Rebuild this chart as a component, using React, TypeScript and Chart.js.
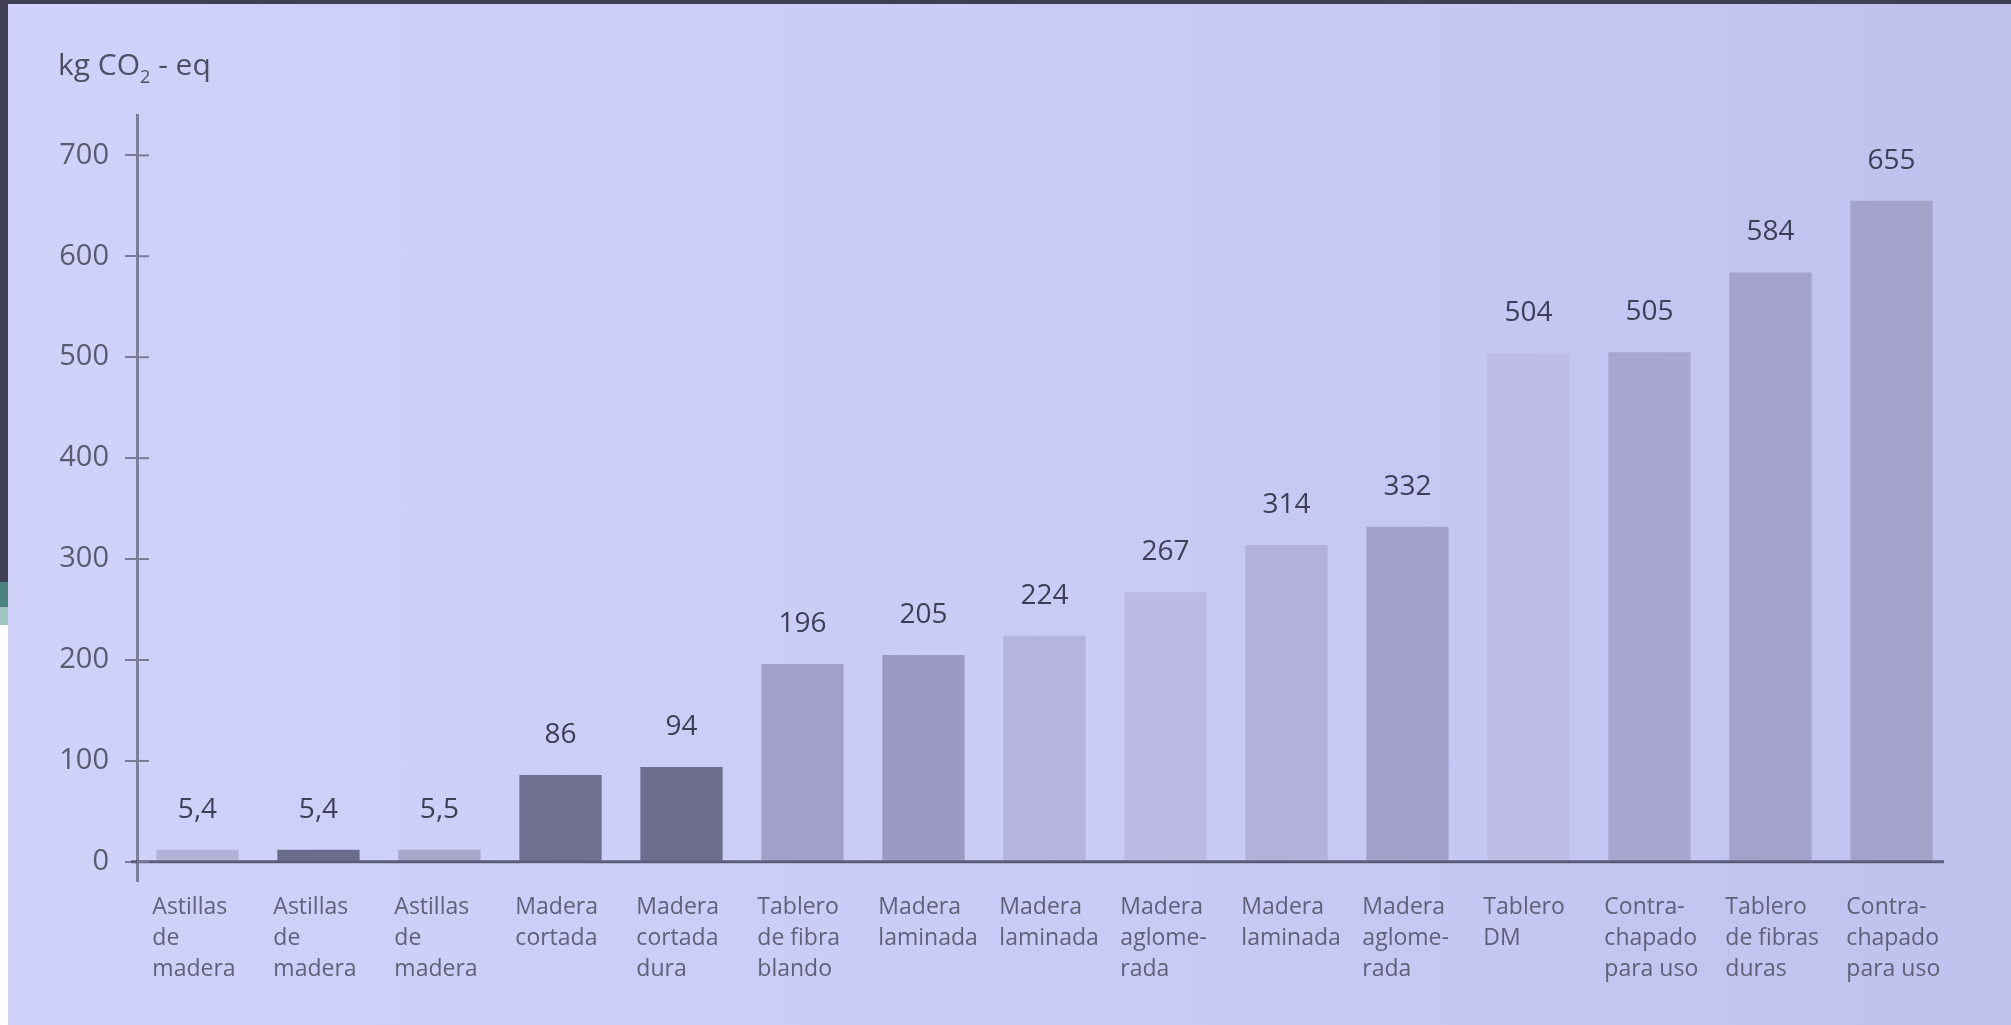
import { useEffect, useRef } from 'react';
import { Chart, registerables } from 'chart.js';

Chart.register(...registerables);

const categories: string[][] = [
  ['Astillas', 'de', 'madera'],
  ['Astillas', 'de', 'madera'],
  ['Astillas', 'de', 'madera'],
  ['Madera', 'cortada'],
  ['Madera', 'cortada', 'dura'],
  ['Tablero', 'de fibra', 'blando'],
  ['Madera', 'laminada'],
  ['Madera', 'laminada'],
  ['Madera', 'aglome-', 'rada'],
  ['Madera', 'laminada'],
  ['Madera', 'aglome-', 'rada'],
  ['Tablero', 'DM'],
  ['Contra-', 'chapado', 'para uso'],
  ['Tablero', 'de fibras', 'duras'],
  ['Contra-', 'chapado', 'para uso'],
];

const values: number[] = [5.4, 5.4, 5.5, 86, 94, 196, 205, 224, 267, 314, 332, 504, 505, 584, 655];

const barColors: string[] = [
  '#b3b3d9', '#6b6b8b', '#a7a7cc', '#6f6f8f', '#6d6d8d',
  '#a0a0c8', '#9a9ac2', '#b4b4de', '#babae4', '#b2b2dc',
  '#a0a0ca', '#bcbce6', '#a6a6d0', '#a2a2cc', '#a3a3cb',
];

const yTicks: number[] = [0, 100, 200, 300, 400, 500, 600, 700];

const fmt = (v: number) => String(v).replace('.', ',');

export default function App() {
  const ref = useRef<HTMLCanvasElement | null>(null);

  useEffect(() => {
    if (!ref.current) return;
    const overlay = {
      id: 'overlay',
      afterDatasetsDraw(chart: any) {
        const { ctx, chartArea, scales } = chart;
        const y = scales.y;
        ctx.save();
        // baseline at zero
        const y0 = y.getPixelForValue(0);
        ctx.strokeStyle = '#5c5c7a';
        ctx.lineWidth = 3;
        ctx.beginPath();
        ctx.moveTo(chartArea.left - 6, y0);
        ctx.lineTo(chartArea.right - 8, y0);
        ctx.stroke();
        // inner half of tick crosses
        ctx.strokeStyle = '#7a7a98';
        ctx.lineWidth = 2;
        yTicks.forEach((v) => {
          const py = y.getPixelForValue(v);
          ctx.beginPath();
          ctx.moveTo(chartArea.left, py);
          ctx.lineTo(chartArea.left + 12, py);
          ctx.stroke();
        });
        const meta = chart.getDatasetMeta(0);
        // value labels
        ctx.font = '28px "Open Sans"';
        ctx.fillStyle = '#3e3e58';
        ctx.textAlign = 'center';
        ctx.textBaseline = 'middle';
        meta.data.forEach((bar: any, i: number) => {
          ctx.fillText(fmt(values[i]), bar.x, bar.y - 40);
        });
        // category labels
        ctx.font = '23px "Open Sans"';
        ctx.fillStyle = '#60607a';
        ctx.textAlign = 'left';
        meta.data.forEach((bar: any, i: number) => {
          const left = bar.x - bar.width / 2 - 4;
          categories[i].forEach((line, j) => {
            ctx.fillText(line, left, chartArea.bottom + 26 + j * 31);
          });
        });
        // y axis unit label
        ctx.textBaseline = 'alphabetic';
        ctx.fillStyle = '#4e4e66';
        let tx = 58;
        const ty = 75;
        ctx.font = '30px "Open Sans"';
        ctx.fillText('kg CO', tx, ty);
        tx += ctx.measureText('kg CO').width;
        ctx.font = '18px "Open Sans"';
        ctx.fillText('2', tx, ty + 8);
        tx += ctx.measureText('2').width;
        ctx.font = '30px "Open Sans"';
        ctx.fillText(' - eq', tx, ty);
        ctx.restore();
      },
    };

    const chart = new Chart(ref.current, {
      type: 'bar',
      data: {
        labels: categories.map((c) => c.join(' ')),
        datasets: [
          {
            data: values,
            backgroundColor: barColors,
            borderWidth: 0,
            barPercentage: 0.68,
            categoryPercentage: 1,
            minBarLength: 12,
          },
        ],
      },
      options: {
        animation: false,
        responsive: true,
        maintainAspectRatio: false,
        layout: { padding: { left: 50, right: 59, top: 115, bottom: 144 } },
        plugins: {
          legend: { display: false },
          title: { display: false },
          tooltip: { enabled: false },
        },
        scales: {
          x: { display: false },
          y: {
            min: -19,
            max: 740,
            afterBuildTicks: (axis: any) => {
              axis.ticks = yTicks.map((v) => ({ value: v }));
            },
            afterFit: (axis: any) => {
              axis.width = 87;
            },
            border: { display: true, color: '#7c7c9c', width: 3 },
            grid: {
              display: true,
              drawOnChartArea: false,
              drawTicks: true,
              tickLength: 12,
              color: '#7a7a98',
              lineWidth: 2,
            },
            ticks: {
              font: { family: 'Open Sans', size: 29 },
              color: '#5a5a72',
              padding: 16,
            },
          },
        },
      },
      plugins: [overlay],
    });
    return () => chart.destroy();
  }, []);

  return (
    <div
      style={{
        position: 'absolute',
        left: 0,
        top: 0,
        width: 2011,
        height: 1025,
        overflow: 'hidden',
        background: 'linear-gradient(to right, #d1d2fa 0%, #cbccf6 50%, #c0c1ed 100%)',
      }}
    >
      <div style={{ position: 'absolute', left: 0, top: 0, width: 2011, height: 4, background: '#3e3f52' }} />
      <div style={{ position: 'absolute', left: 0, top: 0, width: 8, height: 582, background: '#3e3f52' }} />
      <div style={{ position: 'absolute', left: 0, top: 582, width: 8, height: 25, background: '#4a8282' }} />
      <div style={{ position: 'absolute', left: 0, top: 607, width: 8, height: 18, background: '#9fc4c4' }} />
      <div style={{ position: 'absolute', left: 0, top: 625, width: 8, height: 400, background: '#ffffff' }} />
      <div style={{ position: 'absolute', left: 0, top: 0, width: 2011, height: 1025 }}>
        <canvas ref={ref} />
      </div>
    </div>
  );
}
